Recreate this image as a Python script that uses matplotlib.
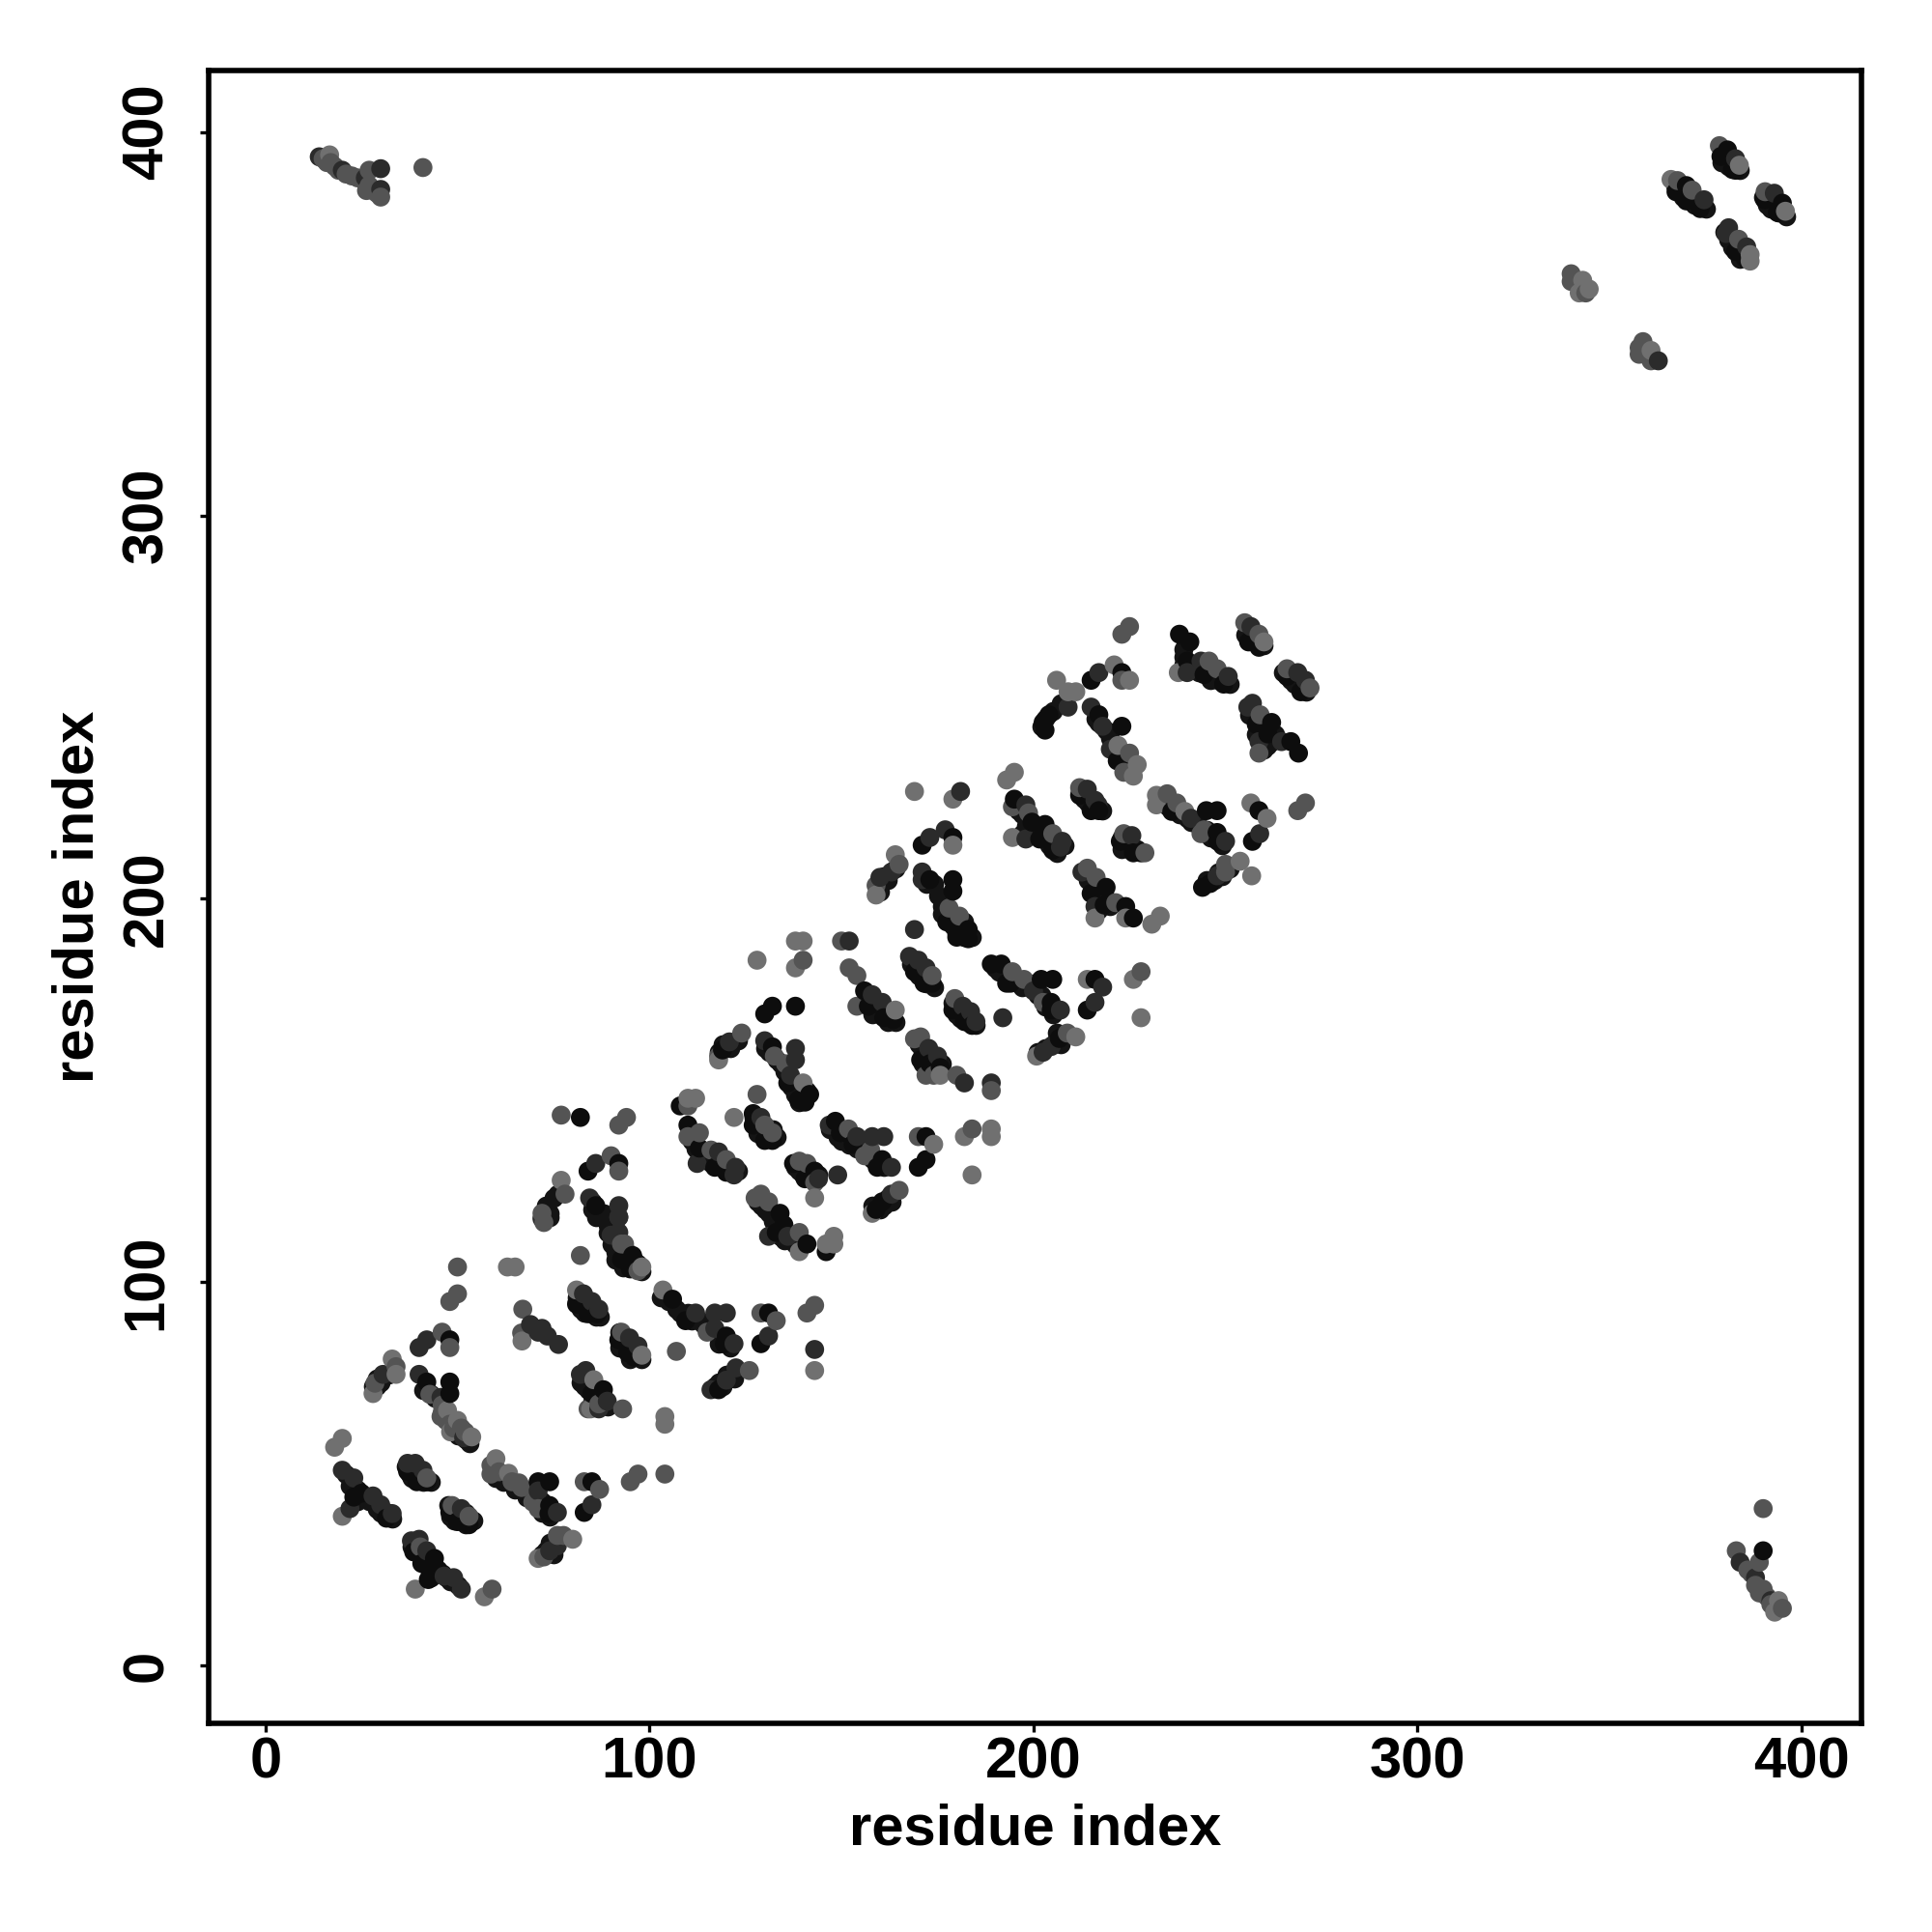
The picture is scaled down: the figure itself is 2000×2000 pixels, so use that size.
import matplotlib
matplotlib.use("Agg")
import matplotlib.pyplot as plt
import numpy as np

plt.rcParams['font.family'] = ['Liberation Sans', 'DejaVu Sans']
plt.rcParams['font.weight'] = 'bold'

ticks = [0, 100, 200, 300, 400]
axis_label = 'residue index'

# contacts, grouped by how dark the dot is
black = [
    (23,44),(25,45),(31.5,38.5),(37,50.7),(39.4,48),(42,48),(48,40),(50,37.6),(53,36.8),
    (38.6,29.7),(44,28),(40.7,26.7),(45,25),(42.4,22.5),(71,48),(74,48),(74,41.8),(73.8,39.7),
    (85,48),(83,40),(88,72),(85,71),(92,85),(94.3,81.7),(96,80.5),(81,94.3),(84,91.8),(86.4,91.8),
    (95.6,107),(92.7,106),(95,104),(106,95.6),(109.4,90),(42,74),(48,74),(48,71),(48,85),
    (183,192),(180,190),(169,181),(171.5,178),(173.6,178),(189,183),(191.6,183),(193,178),
    (157,172),(161,169),(163.5,168.5),(156,176),(179,171),(182,168),(184,167),(175.7,156),
    (170.6,158),(173,157),(119,160.6),(132,172),(130,170),(138,172),(132,161.4),(141.7,149),
    (138.8,147.6),(136,152),(140.5,147),(108,146),(127,144),(127,141),(130,137),(132,137),
    (110,141),(113,135),(117,130),(120,128.7),(143,129),(137.5,131),(140.5,127),(148.4,142),
    (149.7,139),(153,136),(160.6,132),(159.3,130),(172,138),(172,132),(170,130),(160.6,121),
    (159,119),(134,118),(135,115),(133,113),(141,110),(146,108),
    (238,269),(240.7,267),(240,262),(244.4,258.5),(249.5,256),(256,267),(258.7,265.6),
    (266,258),(269.6,254),(262,246),(267,241),(269,238),(261,243),(258,245.5),(204,248),
    (202.5,246),(203,244),(215,257),(223,259),(217,248),(223,245),(221.8,236),(195,226),
    (199.6,220),(203,219.4),(201.6,215.6),(205,212.7),(171,214),(179,216),(173,205),(179,205),
    (179,202),(183,189.6),(177.4,194),(180,191),(212,227),(215,223),(217,223),(222.6,215),
    (226,212),(228,212),(236,222.8),(245,223),(247.8,223),(247.8,217.3),(248,215),(258.7,223),
    (257,215),(246,204),(244,203),(218.9,203),(215,201.4),(224,198),(226,195),(218.4,198.4),
    (216,179),(214,171),(202,179),(205,179),(204.6,173),(194,178),(204.6,171),(206.7,163.6),
    (84,129),(86,120),(92,131),(95,103.5),(131,92),(129,84),(120,86),(119.5,84),(118,72),
    (82,143),(380.7,395.3),(379,393.6),(382.8,390),(382,390.2),(370,386),(367.3,384.4),
    (370,382),(373.6,380),(395,381.4),(390.4,382.3),(393.7,379),(382.8,368.8),(385.3,367),
    (390,30),
]
dark = [
    (20,51),(23,49),(22,41),(28,44.3),(30,42),(33,39.7),(39,52.8),(41,51),(37,52.8),(51,41),
    (38,32.6),(40,33),(42,30),(46.5,23.4),(49,23),(51,20),(76,31.3),(74,30),(71,45.6),(76,40),
    (85,42),(83.4,77),(82,76),(89,69),(86.8,67),(94.8,85.5),(97,83.4),(82.8,97),(85,95),(86.8,93),
    (72,116.6),(92,117),(92,113),(112,92),(117,92),(120,92),(117,88),(40,76),(45.7,70),(51.6,59.5),
    (30.6,76),(42,85),(40,83),(69,89),(71,87),(72,88),(73.4,86),(76.3,83.8),
    (169,192),(152,189),(158,175),(160.6,173),(170,184),(167.7,185),(172,182),(181.6,172),
    (183.6,170.6),(185,168),(192,169),(172.7,161),(175,159),(182,152),(189,152),(120.8,162.7),
    (130,163),(138,161),(138,158),(136.7,154),(129,143),(122.4,130),(112.4,131),(118,134),(122,128),
    (144,127),(149,128),(146.8,141),(154,138),(158,138),(161,138),(163,130),(163,123),(131,112),
    (136,112),(250.7,258),(240,259),(243.6,262),(256.6,271),(268.8,259),(270.8,257),(257,251),
    (255.8,250),(258.7,241),(264.6,241),(209,250),(217,259),(215,250),(218,245),(220,239),(198,224.5),
    (198,215.6),(207.5,215),(207,213.5),(181,228),(177,218),(173,216),(163,207),(160,205.6),(171,207),
    (171,205),(214,228.6),(216,225.7),(216.8,224.5),(225.6,216.5),(241,221),(250,215),(258.9,217),
    (247.8,206),(212.6,207),(216,198),(218,177),(216,173),(207,171),(200,176),(204.6,161.5),(202.5,160),
    (84.4,122),(86,131),(92,120),(92,117),(90,112.3),(116,72),(122.5,77.7),(120,74.5),(131,86),(122,84),
    (143,82.5),(381,375),(380.3,373.5),(385.7,370),(374.6,382.3),(392.9,384),
    (382.8,393),(362.7,340.3),(30,390.4),(14,393.5),(20,390),(26,388),(30,385),(384,27),(388,23),(392,17),
]
mid = [
    (50,104),(50,97),(48,95),(82,107),(67,93),(66.7,86.8),(84,67),(86.8,68.3),(93,67),(92.7,87),
    (48.6,41.8),(42,49),(53,39),(40.3,31),(59,20),(77.6,34),(76,34),(72.5,28.4),(58.7,52.3),(58.7,50),
    (60.8,50.6),(64.2,48),(66,47.7),(66.7,46.5),(69.6,42.7),(71,41),(83,48),(87,46),(97,50),(95,48),
    (104,50),(107,82),(93.5,110),(126,77),(34,78),(45.7,65),(28.5,73.7),(46,87),(48,83),(42.8,70.8),
    (150,189),(140,184),(152,182),(154,180),(154,172),(173.6,180),(179.5,174),(170.6,164),(169,163.5),
    (172,154),(174,154),(180,154),(189,150),(124,165),(118,159),(132.5,159),(135.4,157),(128,149),
    (110,146),(130,141),(132,139),(94,143),(92,141),(113,139),(110,138),(116,134.5),(120,132),(139,131.6),
    (141,131),(143,126),(151.8,140),(157.6,134.5),(156,133),(170,138),(184,140),(165,124),(129,123),
    (127.5,122),(131,121),(139,113),(225,271),(223,269),(245.7,262),(247.8,260),(255,272),(258.7,269),
    (266,260),(272,255),(259,248),(258.7,238),(223,257),(225,238),(223.5,233),(194.5,224),(198.7,222.4),
    (205,217),(165,209),(159,203.5),(178,197.6),(180.7,195.5),(212,229),(223.5,217),(229,212),(234.8,227.4),
    (237.3,225),(244.4,218),(243.6,217),(270.8,225),(268.8,223),(250,209),(250,207),(214,208),(216.3,205.6),
    (221.4,199),(228,181),(194.5,181),(197.5,179),(202.5,173),(208.8,165),(77,143.6),(78,123),(72,118),
    (72.5,115.6),(90,133),(92,129),(92.7,110),(97,103),(143,94),(141,92),(129,92),(133,90),(115,87),
    (378.6,396.4),(371.5,384.8),(367.7,387.3),(390.5,384.4),(383.6,372),(340,363),(340,361),(343.8,358),
    (358.7,345.3),(357.7,343.7),(357.7,342),(360.8,340.3),(41,390.7),(27,390),(390,41),(383,30),(389,27),
    (17,392),(22.5,388.5),(26.3,384.7),(389,19),(15,393),(16,392),(18,391),(19,390),(21,389),(24,388),
    (27,386),(29,384),(30,383),(386,25),(387,24),(388,21),(390,20),(391,18),(392,16),(393,16),(395,15),
    (46,68),(46,66),(47,64),(48,63),(49,62),(51,62),(52,61),
]
light = [
    (20,59.3),(18,57),(63,104),(65,104),(20,39),(39,20),(57,18),(80,33),(71,28),(60,54),(63.3,50.2),
    (104,65),(104,63),(84.7,67),(85.5,74.6),(66.8,84.7),(81,98),(98,104),(98,81),(103.5,98),(33,80),
    (34,76),(47.4,66.6),(50,64),(48.2,61),(53.7,59.7),(28,71),(138,189),(140,189),(128,184),
    (138,182),(164,171),(175.7,154),(140,152),(112,148),(110,148),(118,158),(122,143),(143,122),(174,136),
    (182,138),(189,140),(189,138),(184,128),(158,118),(139,108),(148,112),(146,110),(148,110),(237.7,259),
    (260,267),(206,257),(209,254),(211,254),(221,261),(225,257),(222,240),(227,235),(226,232),(195,233),
    (193,231),(194.5,216),(169,228),(179,226),(179,214),(164,211.5),(159,201),(232,227),(232,224.5),
    (239.4,222.8),(256.6,225),(260.8,221),(256.8,206),(253.8,209.8),(233,195.5),(230.8,193.4),(216,195),
    (224,195),(226,179),(228,169),(214,179),(211,164),(200.8,159),(77,126.6),(143,77),(366,387.6),
    (383.8,391.3),(395.8,379.3),(386.6,368),(386.6,366.3),(343,361.3),(344.7,359),(342.1,358),(360.8,343),
    (16.7,394),(393,14),(394,17),
]
# near-black dots that mostly show as the edge of the dense bands
under = [
    (21,50),(22,47),(24,46),(24,43),(26,44),(27,43),(29,41),(30,40),(32,40),(33,38.5),
    (38,51),(38,49),(40,50),(40,48.5),(41,48),(43,48),(36.5,52),(37.5,50),
    (47.5,42),(48,39),(49,38),(51,38),(52,37),(52,40),(54,38),
    (38,31),(39,31),(41,29),(43,27),(42,26),(44,24),(43,23),(46,24),(47,23),(48,22),(50,21),
    (60,49),(62,48),(65,46),(68,44),(70,43),(72,43),(72,40),(74,39),(75,40),
    (82,74),(83,73),(84,72),(86,70),(85,69),(87,68),(88,70),(89,67.5),
    (92,87),(92,83),(93,83),(95,82),(95,80),(97,81),(98,80),
    (81,96),(81,95),(82,93),(83,92),(85,92),(86,91),(87,91),
    (91,114),(92,110),(93,108),(94,106),(95,106),(96,104),(97,105),(98,103),
    (103,96),(105,95),(107,93),(108,92),(110,92),(111,90),(113,90),(114,89),(116,88),(118,86),(118,84),(121,83),
    (41,72),(43,71),(44,70),(29,75),(29,73),(30,74),(32,76),(28,73),(50,60),(52,59),(53,58),
    (73,120),(74,118),(75,122),(76,123),(74,117),(72,117),
    (85,121),(85,119),(86,117),(87,118),(88,118),(89,115),(89,113),(90,110),(91,108),(91,106),
    (93,104),(94,108),(95,105),(96,106),
    (72,29),(73,29),(75,31),(73,30),(74,32),(75,29),
    (117,73),(119,73),(120,76),(121,76),(122,75),(118,74),
    (157,174),(159,172),(158,170),(160,171),(162,170),(162,168),(164,168),
    (168,183),(169,183),(171,180),(170,180),(173,179),(172,178),(174,177),
    (179,173),(180,170),(181,169),(183,168),(185,167),(181,172),
    (170,162),(171,160),(171,157),(172,160),(174,158),(174,156),(176,157),
    (118,160),(119,162),(121,161),(123,163),
    (130,161),(131,160),(133,158),(134,157),(135,155),(137,153),(137,151),(138,149),(139,150),(141,150),(139,147),
    (127,143),(128,142),(128,139),(129,139),(131,138),(132,140),(133,138),
    (111,137),(112,135),(113,133),(114,132),(115,132),(116,131),(118,131),(119,130),(121,129),(123,129),
    (138,130),(139,129),(140,128),(141,128),(142,127),(144,128),
    (147,140),(149,138),(150,137),(152,136),(154,135),(155,135),(157,134),(158,132),(159,132),(161,130),
    (158,120),(160,119),(162,122),(161,120),(163,121),
    (128,121),(129,120),(130,119),(131,118),(132,116),(133,116),(134,114),(134,112),(135,111),(137,112),(138,110),(132,113),
    (239,265),(239,263),(239,261),(241,260),(242,260),(243,259),(245,259),(247,258),(248,257),(251,256),(246,257),
    (255,269),(256,269),(257,268),(258,267),(260,266),(256,270),
    (265,259),(267,257),(268,256),(270,255),(271,254),
    (256,248),(257,248),(258,247),(259,244),(260,242),(260,239),(262,241),(263,243),(261,240),(258,243),
    (203,247),(205,249),(207,251),(202,245),
    (216,247),(217,246),(219,244),(220,242),(221,240),(223,237),(224,235),(225,234),(222,238),
    (196,223),(197,222),(198,219),(199,218),(200,217),(202,218),(204,216),(206,212),(208,214),(204,214),(197,217),
    (160,204),(160,202),(161,206),(162,205),(164,208),
    (172,204),(174,204),(175,201),(176,198),(176,196),(178,195),(179,193),(181,192),(182,190),(184,190),(182,194),
    (212,228),(213,226),(214,225),(216,224),(218,223),
    (223,216),(224,214),(225,213),(227,213),(223,213),
    (233,226),(235,224),(237,223),(238,222),(240,221),(241,220),(243,219),(245,218),(246,216),(247,216),(249,214),
    (245,205),(247,205),(248,207),(249,206),(251,208),
    (213,207),(214,205),(215,204),(216,203),(216,201),(217,199),(219,200),(220,198),(217,197),
    (190,182),(191,181),(193,180),(195,179),(196,178),(197,177),(199,177),(200,178),(201,175),(202,175),(203,172),(205,170),
    (201,160),(203,161),(205,162),(206,165),(207,162),
    (379,392),(381,391),(383,391),(384,390),
    (367,386),(368,385),(369,383),(371,383),(372,381),(374,381),(375,380),
    (390,383),(391,381),(392,380),(394,379),(396,378),
    (380,374),(381,372),(382,370),(384,369),(384,367),(386,367),
]

groups = [(black, 0.05), (dark, 0.17), (mid, 0.33), (light, 0.44)]

xs, ys, shades = [], [], []
for pts, grey in groups:
    for px, py in pts:
        xs.append(px)
        ys.append(py)
        shades.append(str(grey))
xs = np.array(xs)
ys = np.array(ys)
# the plot was drawn going along x, so later residues sit on top
order = np.argsort(xs, kind='stable')

fig = plt.figure(figsize=(10, 10), dpi=200)
ax = fig.add_axes([0.108, 0.108, 0.8555, 0.8555])
ux, uy = zip(*under)
ax.scatter(ux, uy, c='0.08', s=50, linewidths=0, zorder=2)
ax.scatter(xs[order], ys[order], c=[shades[i] for i in order], s=50, linewidths=0, zorder=3)

ax.set_xlim(-14.8, 415.6)
ax.set_ylim(-15, 416)
ax.set_xticks(ticks)
ax.set_yticks(ticks)
ax.tick_params(axis='both', length=3.4, width=1.2, labelsize=21.5)
ax.tick_params(axis='x', pad=1.5)
ax.tick_params(axis='y', pad=9.5)
for lab in ax.get_yticklabels():
    lab.set_rotation(90)
    lab.set_va('center')
for side in ax.spines.values():
    side.set_linewidth(2.0)

ax.set_xlabel(axis_label, fontsize=21.5, fontweight='bold', labelpad=5)
ax.set_ylabel(axis_label, fontsize=21.5, fontweight='bold', labelpad=6)

fig.savefig('out.png', dpi=200, facecolor='white')
